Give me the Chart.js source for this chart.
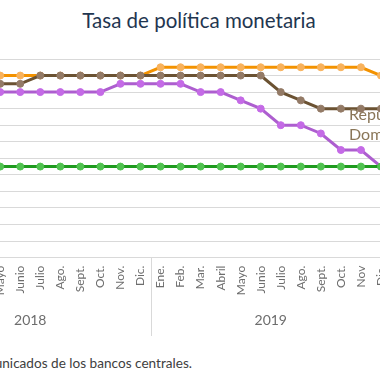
<!DOCTYPE html>
<html>
<head>
<meta charset="utf-8">
<script src="https://cdn.jsdelivr.net/npm/chart.js@4.4.1/dist/chart.umd.min.js"></script>
<style>
  html, body { margin: 0; padding: 0; width: 380px; height: 380px; overflow: hidden; background: #fff; font-family: Lato, sans-serif; }
  #titulo { position: absolute; top: 8px; left: 0; width: 398px; text-align: center; font-size: 20.5px; color: #1f3650; }
  #caixa { position: absolute; left: -95px; top: 54px; width: 491px; height: 284px; }
  #rotulo { position: absolute; left: 349px; top: 104px; font-size: 16px; line-height: 20px; color: #8a7658; white-space: nowrap; }
  #fonte { position: absolute; right: 188px; top: 355px; font-size: 13.6px; color: #404040; white-space: nowrap; }
</style>
</head>
<body>
<div id="titulo">Tasa de política monetaria</div>
<div id="caixa"><canvas id="grafico"></canvas></div>
<div id="rotulo">República<br>Dominicana</div>
<div id="fonte">Fuente: comunicados de los bancos centrales.</div>
<script>
// meses 2018 e 2019
const meses = ['Ene.', 'Feb.', 'Mar.', 'Abril', 'Mayo', 'Junio', 'Julio', 'Ago.', 'Sept.', 'Oct.', 'Nov.', 'Dic.',
               'Ene.', 'Feb.', 'Mar.', 'Abril', 'Mayo', 'Junio', 'Julio', 'Ago.', 'Sept.', 'Oct.', 'Nov', 'Dic.'];
const anos = ['2018', '2019'];

// tasas (%)
const repDominicana = [5.25, 5.25, 5.25, 5.25, 5.25, 5.25, 5.5, 5.5, 5.5, 5.5, 5.5, 5.5,
                       5.5, 5.5, 5.5, 5.5, 5.5, 5.5, 5.0, 4.75, 4.5, 4.5, 4.5, 4.5];
const honduras = [5.5, 5.5, 5.5, 5.5, 5.5, 5.5, 5.5, 5.5, 5.5, 5.5, 5.5, 5.5,
                  5.75, 5.75, 5.75, 5.75, 5.75, 5.75, 5.75, 5.75, 5.75, 5.75, 5.75, 5.5];
const guatemala = [2.75, 2.75, 2.75, 2.75, 2.75, 2.75, 2.75, 2.75, 2.75, 2.75, 2.75, 2.75,
                   2.75, 2.75, 2.75, 2.75, 2.75, 2.75, 2.75, 2.75, 2.75, 2.75, 2.75, 2.75];
const costaRica = [5.0, 5.0, 5.0, 5.0, 5.0, 5.0, 5.0, 5.0, 5.0, 5.0, 5.25, 5.25,
                   5.25, 5.25, 5.0, 5.0, 4.75, 4.5, 4.0, 4.0, 3.75, 3.25, 3.25, 2.75];

function serie(label, dados, cor, corPonto) {
    return {
        label: label,
        data: dados,
        borderColor: cor,
        borderWidth: 3,
        pointRadius: 3.5,
        pointBackgroundColor: corPonto,
        pointBorderColor: corPonto,
        pointBorderWidth: 1,
        tension: 0
    };
}

// linha vertical entre os anos
const separadorAnos = {
    id: 'separadorAnos',
    afterDraw(chart) {
        const x = chart.scales.x;
        const ano = chart.scales.ano;
        const px = Math.round((x.getPixelForValue(11) + x.getPixelForValue(12)) / 2) + 0.5;
        const ctx = chart.ctx;
        ctx.save();
        ctx.strokeStyle = '#d9d9d9';
        ctx.lineWidth = 1;
        ctx.beginPath();
        ctx.moveTo(px, chart.chartArea.bottom);
        ctx.lineTo(px, ano.bottom - 2);
        ctx.stroke();
        ctx.restore();
    }
};

const ctx = document.getElementById('grafico').getContext('2d');

new Chart(ctx, {
    type: 'line',
    data: {
        labels: meses,
        datasets: [
            serie('República Dominicana', repDominicana, '#6b5232', '#937a66'),
            serie('Honduras', honduras, '#f39200', '#f8b25c'),
            serie('Guatemala', guatemala, '#1e9a1e', '#50c250'),
            serie('Costa Rica', costaRica, '#ad5ecf', '#c46ae6')
        ]
    },
    options: {
        responsive: true,
        maintainAspectRatio: false,
        animation: false,
        layout: { padding: 0 },
        plugins: {
            legend: { display: false },
            tooltip: { enabled: false }
        },
        scales: {
            x: {
                offset: true,
                weight: 0,
                grid: { display: false },
                border: { display: false },
                ticks: {
                    autoSkip: false,
                    minRotation: 90,
                    maxRotation: 90,
                    crossAlign: 'center',
                    padding: 0,
                    color: '#6d6d6d',
                    font: { family: 'Lato', size: 12 }
                }
            },
            ano: {
                type: 'category',
                labels: anos,
                position: 'bottom',
                offset: true,
                weight: 1,
                grid: { display: false },
                border: { display: false },
                ticks: {
                    padding: 9,
                    color: '#6d6d6d',
                    font: { family: 'Lato', size: 14 }
                }
            },
            y: {
                min: 0,
                max: 6,
                grid: { color: '#d9d9d9', drawTicks: false },
                border: { display: false },
                ticks: { display: false, stepSize: 0.5 }
            }
        }
    },
    plugins: [separadorAnos]
});
</script>
</body>
</html>
